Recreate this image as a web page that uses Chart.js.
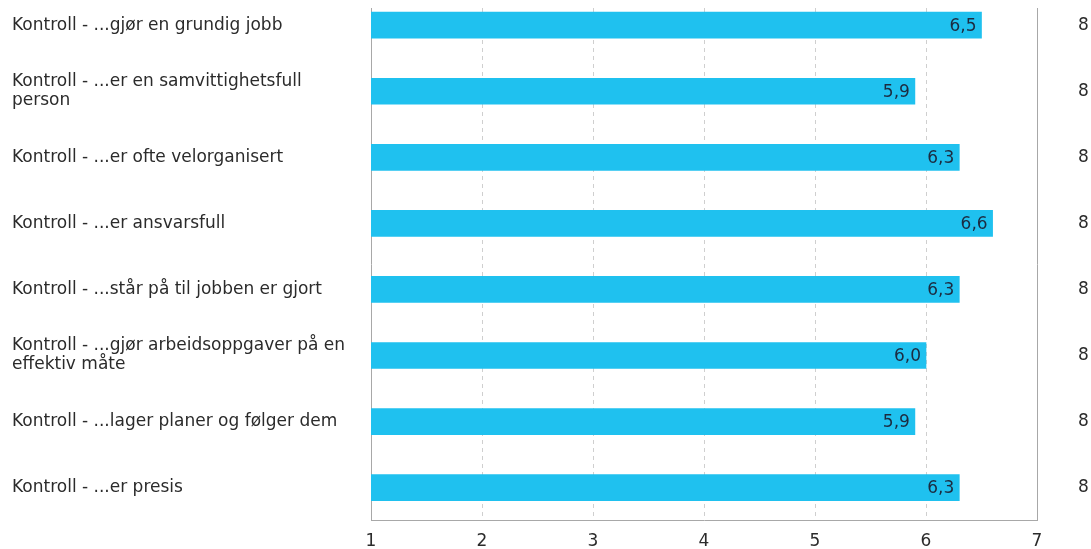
<!DOCTYPE html>
<html>
<head>
<meta charset="utf-8">
<script src="https://cdn.jsdelivr.net/npm/chart.js@4/dist/chart.umd.min.js"></script>
<style>
html,body{margin:0;padding:0;background:#fff;overflow:hidden;}
#wrap{position:absolute;left:0;top:0;width:1091px;height:549px;}
</style>
</head>
<body>
<div id="wrap"><canvas id="c" width="1091" height="549"></canvas></div>
<script>
const categories = [
  ["Kontroll - ...gjør en grundig jobb"],
  ["Kontroll - ...er en samvittighetsfull", "person"],
  ["Kontroll - ...er ofte velorganisert"],
  ["Kontroll - ...er ansvarsfull"],
  ["Kontroll - ...står på til jobben er gjort"],
  ["Kontroll - ...gjør arbeidsoppgaver på en", "effektiv måte"],
  ["Kontroll - ...lager planer og følger dem"],
  ["Kontroll - ...er presis"]
];
const values = [6.5, 5.9, 6.3, 6.6, 6.3, 6.0, 5.9, 6.3];
const counts = ["8", "8", "8", "8", "8", "8", "8", "8"];
const xTicks = [1, 2, 3, 4, 5, 6, 7];

const FONT = "'DejaVu Sans', Verdana, sans-serif";
const fmt = v => v.toFixed(1).replace('.', ',');

const valueLabels = {
  id: 'valueLabels',
  afterDatasetsDraw(chart) {
    const ctx = chart.ctx;
    const meta = chart.getDatasetMeta(0);
    ctx.save();
    ctx.font = "17px " + FONT;
    ctx.fillStyle = '#1c2b40';
    ctx.textAlign = 'right';
    ctx.textBaseline = 'middle';
    meta.data.forEach((el, i) => {
      ctx.fillText(fmt(values[i]), el.x - 5, el.y + 1);
    });
    ctx.restore();
  }
};

const yRange = { min: -0.26, max: 7.49 };
const noPad = s => { s.paddingTop = 0; s.paddingBottom = 0; s.paddingLeft = 0; s.paddingRight = 0; };
const rowTicks = s => { s.ticks = categories.map((_, i) => ({ value: i })); };

new Chart(document.getElementById('c'), {
  type: 'bar',
  data: {
    datasets: [{
      data: values.map((v, i) => ({ x: v, y: i })),
      backgroundColor: '#1fc1ef',
      borderWidth: 0,
      barThickness: 26,
      yAxisID: 'y'
    }]
  },
  options: {
    indexAxis: 'y',
    responsive: false,
    animation: false,
    events: [],
    layout: { padding: { left: 12, top: 8, right: 0, bottom: 0 } },
    plugins: { legend: { display: false }, tooltip: { enabled: false } },
    scales: {
      x: {
        type: 'linear',
        bounds: 'data',
        offset: false,
        min: xTicks[0],
        max: xTicks[xTicks.length - 1],
        afterBuildTicks: s => { s.ticks = xTicks.map(v => ({ value: v })); },
        afterFit: s => { s.height = 29; noPad(s); },
        ticks: {
          font: { family: FONT, size: 17 },
          color: '#2b2b2b',
          padding: 11
        },
        grid: {
          drawTicks: false,
          offset: false,
          color: c => (c.tick && (c.tick.value === 1 || c.tick.value === 7)) ? 'rgba(0,0,0,0)' : '#cfcfcf',
          lineWidth: 1
        },
        border: { display: true, color: '#a8a8a8', width: 1, dash: [4, 4] }
      },
      y: {
        type: 'linear',
        bounds: 'data',
        offset: false,
        position: 'left',
        reverse: true,
        min: yRange.min,
        max: yRange.max,
        afterBuildTicks: rowTicks,
        afterFit: s => { s.width = 359; noPad(s); },
        ticks: {
          autoSkip: false,
          crossAlign: 'far',
          padding: 0,
          font: { family: FONT, size: 17, lineHeight: 1.12 },
          color: '#2b2b2b',
          callback: v => categories[v] || ''
        },
        grid: { display: false, drawTicks: false, offset: false },
        border: { display: true, color: '#a8a8a8', width: 1 }
      },
      y2: {
        type: 'linear',
        bounds: 'data',
        offset: false,
        position: 'right',
        reverse: true,
        min: yRange.min,
        max: yRange.max,
        afterBuildTicks: rowTicks,
        afterFit: s => { s.width = 54; noPad(s); },
        ticks: {
          autoSkip: false,
          padding: 41,
          font: { family: FONT, size: 17 },
          color: '#2b2b2b',
          callback: v => counts[v] || ''
        },
        grid: { display: false, drawTicks: false, offset: false },
        border: { display: true, color: '#a8a8a8', width: 1 }
      }
    }
  },
  plugins: [valueLabels]
});
</script>
</body>
</html>
